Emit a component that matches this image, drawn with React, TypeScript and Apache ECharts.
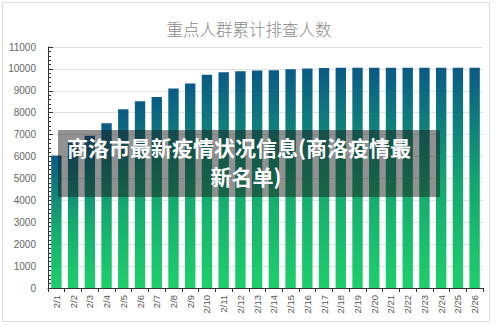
import React, { useEffect, useRef } from "react";
import * as echarts from "echarts";

const categories = ["2/1","2/2","2/3","2/4","2/5","2/6","2/7","2/8","2/9","2/10","2/11","2/12","2/13","2/14","2/15","2/16","2/17","2/18","2/19","2/20","2/21","2/22","2/23","2/24","2/25","2/26"];
const values = [6050,6700,6950,7520,8160,8520,8720,9110,9330,9730,9850,9890,9930,9940,9980,10020,10040,10050,10050,10050,10050,10050,10050,10050,10050,10050];
const chartTitle = "重点人群累计排查人数";
const overlayLine1 = "商洛市最新疫情状况信息(商洛疫情最";
const overlayLine2 = "新名单)";

export default function App() {
  const ref = useRef<HTMLDivElement>(null);
  useEffect(() => {
    document.body.style.margin = "0";
    const chart = echarts.init(ref.current!, null, { renderer: "svg" });
    chart.setOption({
      animation: false,
      backgroundColor: "#ffffff",
      title: {
        text: chartTitle,
        left: 244,
        textAlign: "center",
        top: 16,
        textStyle: { fontFamily: "Noto Sans CJK SC", fontWeight: 300, fontSize: 16.5, color: "#8a8a8a" },
      },
      grid: { left: 48, right: 17, top: 47, bottom: 39 },
      xAxis: {
        type: "category",
        data: categories,
        axisLine: { lineStyle: { color: "#333", width: 1 } },
        axisTick: { show: true, length: 4, lineStyle: { color: "#333" } },
        axisLabel: { rotate: 90, fontSize: 9.5, color: "#555", margin: 7, fontFamily: "Liberation Sans", interval: 0 },
      },
      yAxis: {
        type: "value",
        min: 0,
        max: 11000,
        interval: 1000,
        axisLine: { show: true, lineStyle: { color: "#333", width: 1 } },
        axisTick: { show: true, inside: true, length: 5, lineStyle: { color: "#333" } },
        minorTick: { show: true, splitNumber: 5, length: 3, lineStyle: { color: "#333" } },
        axisLabel: { fontSize: 10, color: "#666", margin: 12, fontFamily: "Liberation Sans", formatter: (v: number) => String(v) },
        splitLine: { lineStyle: { color: "#e2e2e2" } },
      },
      series: [
        {
          type: "bar",
          data: values,
          barWidth: "62%",
          itemStyle: {
            color: new echarts.graphic.LinearGradient(0, 0, 0, 1, [
              { offset: 0, color: "#0a5a86" },
              { offset: 0.55, color: "#15aa70" },
              { offset: 1, color: "#1ecf6b" },
            ]),
          },
        },
      ],
      graphic: [
        {
          type: "rect",
          shape: { x: 2.5, y: 2.5, width: 487, height: 319 },
          style: { fill: "none", stroke: "#dcdcdc", lineWidth: 1 },
          silent: true,
        },
        {
          type: "rect",
          shape: { x: 58, y: 130, width: 382, height: 67 },
          style: { fill: "rgba(25,25,25,0.48)" },
          z: 100,
        },
        {
          type: "text",
          x: 67,
          y: 147,
          z: 101,
          style: {
            text: overlayLine1,
            fill: "#ffffff",
            fontSize: 21,
            lineHeight: 22,
            fontWeight: "bold",
            fontFamily: "Noto Sans CJK SC",
            verticalAlign: "middle",
            align: "left",
          },
        },
        {
          type: "text",
          x: 246,
          y: 176,
          z: 101,
          style: {
            text: overlayLine2,
            fill: "#ffffff",
            fontSize: 21,
            lineHeight: 22,
            fontWeight: "bold",
            fontFamily: "Noto Sans CJK SC",
            verticalAlign: "middle",
            align: "center",
          },
        },
      ],
    });
    return () => chart.dispose();
  }, []);
  return <div ref={ref} style={{ width: 500, height: 327 }} />;
}
